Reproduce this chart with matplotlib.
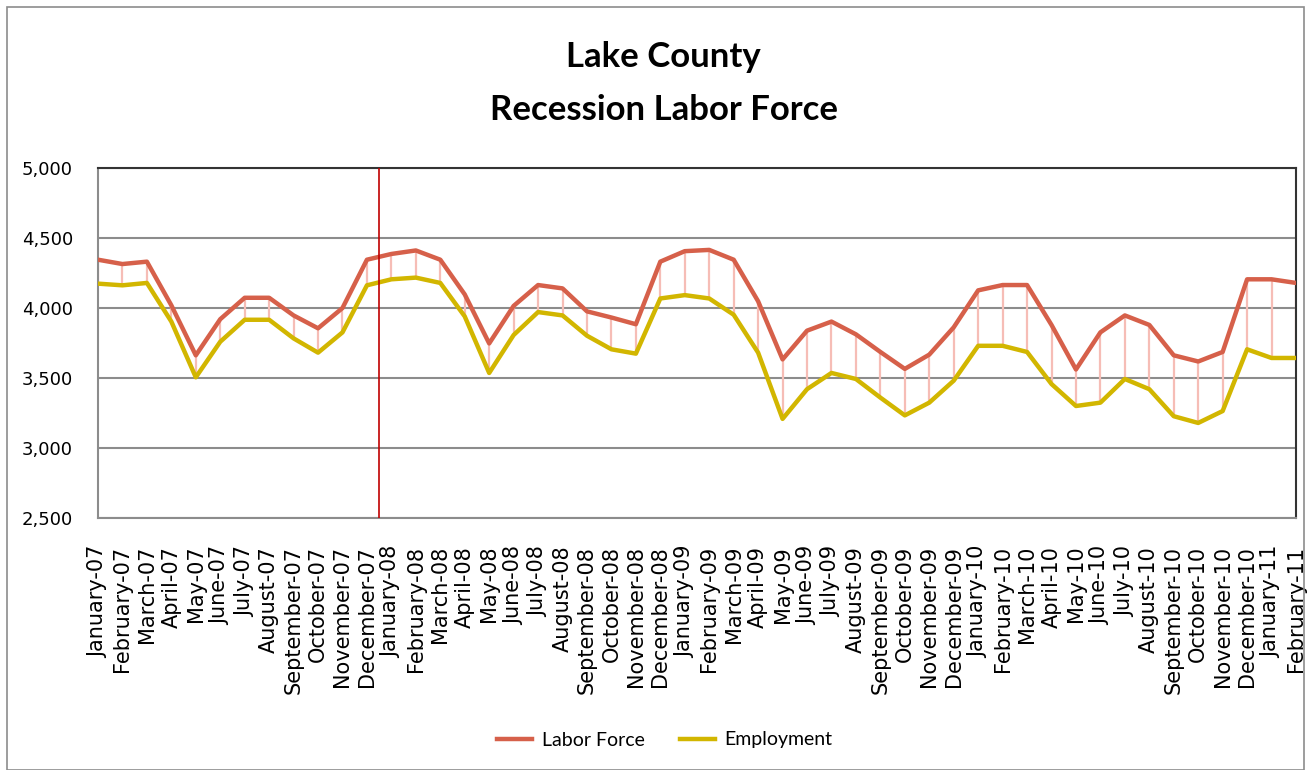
import matplotlib
matplotlib.use('Agg')
import matplotlib.pyplot as plt
from matplotlib.ticker import FuncFormatter
from matplotlib.patches import Rectangle

months = ['January', 'February', 'March', 'April', 'May', 'June', 'July',
          'August', 'September', 'October', 'November', 'December']
labels = []
for yr in ['07', '08', '09', '10']:
    for m in months:
        labels.append(m + '-' + yr)
labels += ['January-11', 'February-11']

labor_force = [4345, 4314, 4331, 4019, 3662, 3920, 4073, 4073, 3947, 3855,
               4000, 4345, 4386, 4411, 4345, 4097, 3747, 4015, 4164, 4140,
               3976, 3932, 3884, 4331, 4406, 4415, 4345, 4048, 3633, 3838,
               3903, 3812, 3686, 3565, 3667, 3862, 4126, 4164, 4164, 3879,
               3561, 3826, 3947, 3879, 3662, 3618, 3686, 4205, 4205, 4179]
employment = [4174, 4162, 4179, 3903, 3505, 3759, 3916, 3916, 3783, 3681,
              3826, 4162, 4205, 4217, 4179, 3940, 3536, 3807, 3971, 3947,
              3802, 3705, 3674, 4068, 4092, 4068, 3952, 3681, 3208, 3420,
              3536, 3493, 3360, 3233, 3324, 3481, 3730, 3730, 3686, 3457,
              3300, 3324, 3493, 3420, 3227, 3179, 3264, 3705, 3643, 3643]
recession_start = 11.5  # between December-07 and January-08

narrow = ['Lato', 'DejaVu Sans']
x = list(range(len(labels)))

fig = plt.figure(figsize=(13.09, 7.70), dpi=100)
ax = fig.add_axes([98 / 1309, 1 - 518 / 770, (1296 - 98) / 1309, (518 - 168) / 770])

ax.vlines(x, employment, labor_force, color='#f6bdb6', linewidth=1.6, zorder=2)
ax.plot(x, labor_force, color='#d6604a', linewidth=3.2, label='Labor Force', zorder=3)
ax.plot(x, employment, color='#d2b600', linewidth=3.2, label='Employment', zorder=3)
ax.axvline(recession_start, color='#c00000', linewidth=1.2, zorder=4)

ax.set_xlim(0, len(labels) - 1)
ax.set_ylim(2500, 5000)
ax.set_yticks([2500, 3000, 3500, 4000, 4500, 5000])
ax.yaxis.set_major_formatter(FuncFormatter(lambda v, p: f'{int(v):,}'))
ax.set_xticks(x)
ax.set_xticklabels(labels, rotation=90, fontsize=15)
ax.tick_params(axis='y', labelsize=13, length=0, pad=18)
ax.tick_params(axis='x', length=0, pad=20)
ax.grid(axis='y', color='#8c8c8c', linewidth=1.5)
ax.set_axisbelow(True)
for side in ['left', 'bottom']:
    ax.spines[side].set_color('#8c8c8c')
    ax.spines[side].set_linewidth(1.5)
for side in ['top', 'right']:
    ax.spines[side].set_color('#333333')
    ax.spines[side].set_linewidth(1.5)

fig.text(0.507, 1 - 57 / 770, 'Lake County', ha='center', va='center',
         fontsize=25, fontweight='bold', family=narrow)
fig.text(0.507, 1 - 110 / 770, 'Recession Labor Force', ha='center', va='center',
         fontsize=25, fontweight='bold', family=narrow)

fig.legend(loc='center', bbox_to_anchor=(0.508, 1 - 740 / 770), ncol=2, frameon=False,
           handlelength=1.8, handletextpad=0.5, columnspacing=1.8,
           prop={'family': narrow, 'size': 14})

fig.patches.append(Rectangle((7 / 1309, 0), 1 - 12 / 1309, 1 - 7 / 770,
                             transform=fig.transFigure, fill=False,
                             edgecolor='#8c8c8c', linewidth=1.2))

fig.savefig('out.png', dpi=100)
